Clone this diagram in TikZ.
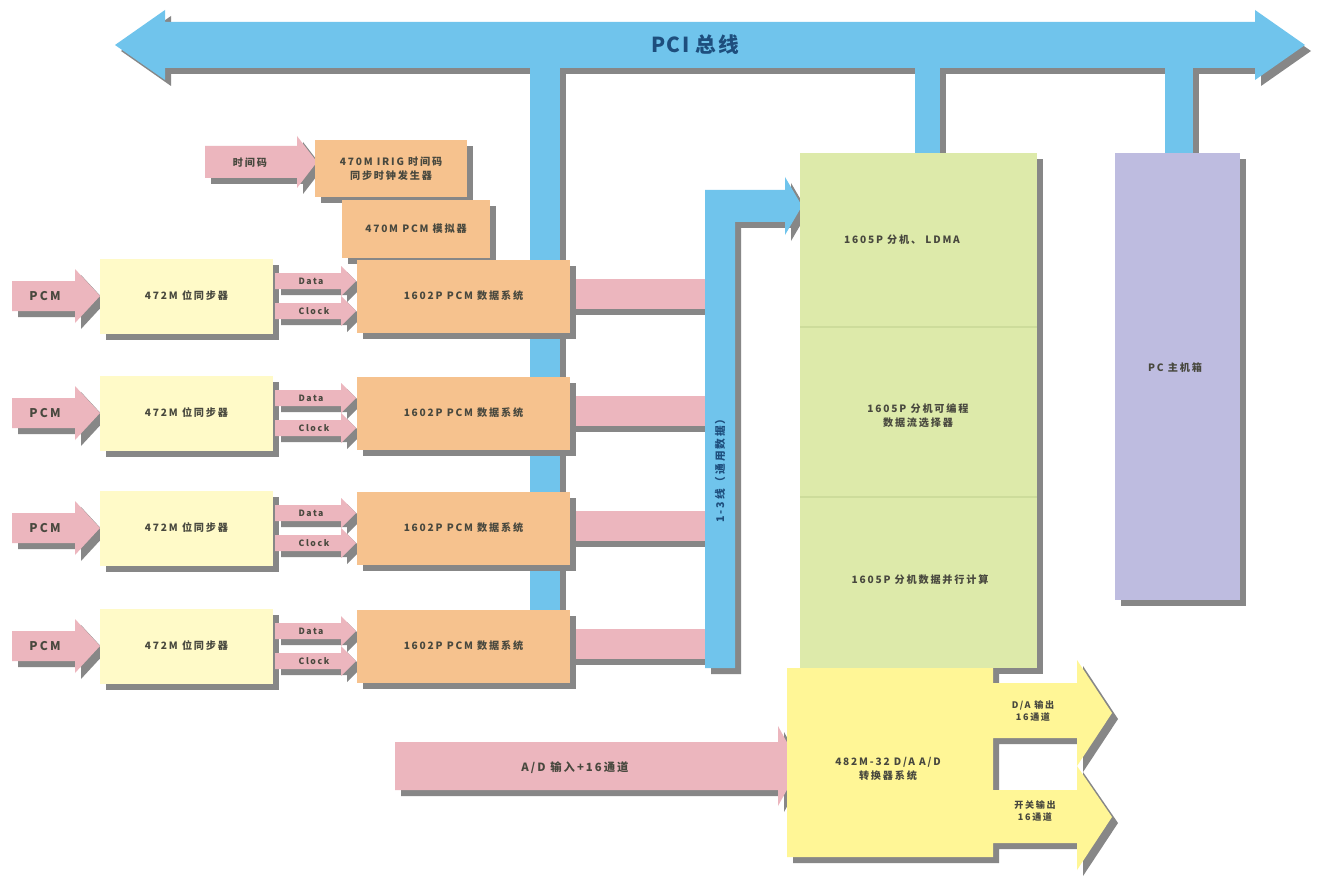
\documentclass[tikz,border=0pt]{standalone}
\usepackage{fontspec}
\setmainfont{Noto Sans CJK SC}
\newfontfamily\lblfont{Noto Sans CJK SC}[LetterSpace=18]
\newfontfamily\pcifont{Noto Sans CJK SC}[LetterSpace=8]
\usetikzlibrary{shadows}
\definecolor{busblue}{RGB}{112,196,236}
\definecolor{pinkc}{RGB}{236,182,190}
\definecolor{lyel}{RGB}{255,250,200}
\definecolor{orng}{RGB}{246,194,142}
\definecolor{grn}{RGB}{221,234,170}
\definecolor{grnline}{RGB}{205,220,155}
\definecolor{purp}{RGB}{190,188,224}
\definecolor{byel}{RGB}{255,246,150}
\definecolor{txt}{RGB}{72,72,62}
\definecolor{shdc}{RGB}{135,135,135}
\definecolor{pcitxt}{RGB}{30,78,125}
% right-pointing block arrow: x1, x2(tip), yc, half body, half head, head length, colour
\newcommand\blockarrow[7]{%
  \path[fill=#7,shd] (#1,#3-#4) -- (#2-#6,#3-#4) -- (#2-#6,#3-#5) -- (#2,#3)
    -- (#2-#6,#3+#5) -- (#2-#6,#3+#4) -- (#1,#3+#4) -- cycle;}
\begin{document}
\begin{tikzpicture}[x=0.75pt,y=-0.75pt,
  shd/.style={drop shadow={shadow xshift=4.5pt,shadow yshift=-4.5pt,fill=shdc,opacity=1}},
  wh/.style 2 args={minimum width=#1*0.75pt,minimum height=#2*0.75pt},
  lbl/.style={text=txt,font=\lblfont\bfseries\fontsize{7.6}{10.5}\selectfont,align=center,inner sep=0pt},
  boxbase/.style={rectangle,draw=none,inner sep=0pt,shd},
  ybox/.style={boxbase,fill=lyel,wh={173}{75},lbl},
  obox/.style={boxbase,fill=orng,lbl},
  pcmtxt/.style={text=txt,font=\lblfont\bfseries\fontsize{9}{10}\selectfont,inner sep=0pt},
  smalltxt/.style={text=txt,font=\lblfont\bfseries\fontsize{6.5}{8}\selectfont,inner sep=0pt},
]
\useasboundingbox[fill=white] (0,0) rectangle (1319,877);

% ---------- blue PCI bus (shadows first, then fills) ----------
\begin{scope}[shift={(6,6)}]
  \fill[shdc] (115,45) -- (165,10) -- (165,22) -- (1255,22) -- (1255,10) -- (1305,45)
     -- (1255,80) -- (1255,68) -- (165,68) -- (165,80) -- cycle;
  \fill[shdc] (530,60) rectangle (560,610);
  \fill[shdc] (915,60) rectangle (940,155);
  \fill[shdc] (1165,60) rectangle (1193,155);
\end{scope}
\fill[busblue] (115,45) -- (165,10) -- (165,22) -- (1255,22) -- (1255,10) -- (1305,45)
   -- (1255,80) -- (1255,68) -- (165,68) -- (165,80) -- cycle;
\fill[busblue] (530,60) rectangle (560,610);
\fill[busblue] (915,60) rectangle (940,155);
\fill[busblue] (1165,60) rectangle (1193,155);
\node[text=pcitxt,font=\pcifont\bfseries\fontsize{15.5}{17}\selectfont,inner sep=0pt] (pci) at (695,45) {PCI 总线};

% ---------- pink connectors from the 1602P boxes ----------
\foreach \c in {296,413,528,646}{
  \path[fill=pinkc,shd] (570,\c-17) rectangle (705,\c+13);
}

% ---------- blue bent arrow ----------
\path[fill=busblue,shd] (705,668) -- (705,190) -- (785,190) -- (785,177) -- (802,206)
   -- (785,235) -- (785,222) -- (735,222) -- (735,668) -- cycle;
\node[inner sep=0pt,rotate=90,font=\lblfont\bfseries\fontsize{8}{9}\selectfont,text=pcitxt] (vbus) at (720,468) {1-3线（通用数据）};

% ---------- top-left time code ----------
\blockarrow{205}{317}{162}{16}{26}{20}{pinkc}
\node[lbl] (tc) at (250,163) {时间码};
\node[obox,wh={152}{57}] (irig) at (391,168.5) {470M IRIG 时间码\\同步时钟发生器};
\node[obox,wh={148}{58}] (sim) at (416,229) {470M PCM 模拟器};

% ---------- four PCM rows ----------
\foreach \c/\i in {296/1,413/2,528/3,646/4}{
  \blockarrow{12}{100}{\c}{15}{27}{25}{pinkc}
  \node[pcmtxt] (pcm\i) at (45,\c) {PCM};
  \node[ybox] (sync\i) at (186.5,\c) {472M 位同步器};
  \blockarrow{275}{356}{\c-15}{8}{15}{15}{pinkc}
  \blockarrow{275}{356}{\c+15}{8}{15}{15}{pinkc}
  \node[smalltxt] (data\i) at (311,\c-15) {Data};
  \node[smalltxt] (clk\i) at (314,\c+15) {Clock};
  \node[obox,wh={213}{73}] (daq\i) at (463.5,\c) {1602P PCM 数据系统};
}

% ---------- 1605P green box ----------
\node[boxbase,fill=grn,wh={237}{515}] (hub) at (918.5,410.5) {};
\draw[grnline,line width=0.8pt] (800,327) -- (1037,327);
\draw[grnline,line width=0.8pt] (800,497) -- (1037,497);
\node[lbl] (h1) at (902,240) {1605P 分机、 LDMA};
\node[lbl] (h2) at (918,416) {1605P 分机可编程\\数据流选择器};
\node[lbl] (h3) at (920,580) {1605P 分机数据并行计算};

% ---------- PC box ----------
\node[boxbase,fill=purp,wh={125}{447}] (pc) at (1177.5,376.5) {};
\node[lbl] (pct) at (1175,368) {PC 主机箱};

% ---------- A/D input arrow ----------
\blockarrow{395}{800}{766}{24}{40}{22}{pinkc}
\node[lbl,font=\lblfont\bfseries\fontsize{8.5}{10}\selectfont] (adin) at (575,768) {A/D 输入+16通道};

% ---------- 482M-32 shape ----------
\path[fill=byel,shd] (787,668) -- (993,668) -- (993,683) -- (1077,683) -- (1077,660)
   -- (1112,713) -- (1077,766) -- (1077,738) -- (993,738) -- (993,790) -- (1077,790)
   -- (1077,766) -- (1112,817) -- (1077,870) -- (1077,843) -- (993,843) -- (993,857)
   -- (787,857) -- cycle;
\node[lbl] (adda) at (888,769) {482M-32 D/A A/D\\转换器系统};
\node[lbl,font=\lblfont\bfseries\fontsize{6.8}{8.5}\selectfont] (daout) at (1033,711) {D/A 输出\\16通道};
\node[lbl,font=\lblfont\bfseries\fontsize{6.8}{8.5}\selectfont] (swout) at (1035,811) {开关输出\\16通道};
\end{tikzpicture}
\end{document}
